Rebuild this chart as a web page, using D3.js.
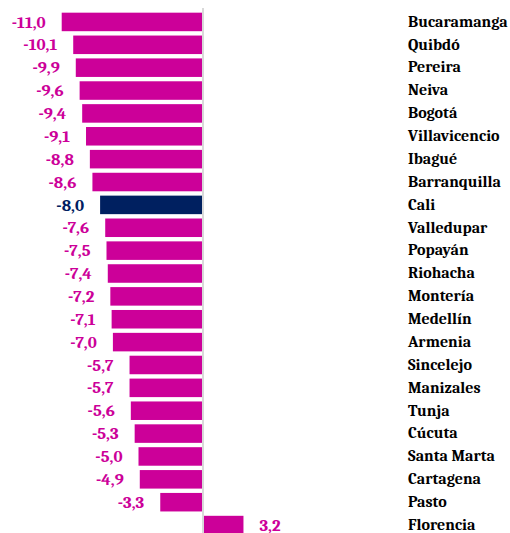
<!DOCTYPE html>
<html>
<head>
<meta charset="utf-8">
<script src="https://cdn.jsdelivr.net/npm/d3@7"></script>
<style>
  html, body { margin: 0; padding: 0; background: #fff; }
  svg { display: block; }
  text { font-family: Cambria, "Liberation Serif", serif; font-weight: bold; }
</style>
</head>
<body>
<svg id="chart" width="510" height="533"></svg>
<script>
// cities, top to bottom
const cities = ['Bucaramanga', 'Quibdó', 'Pereira', 'Neiva', 'Bogotá', 'Villavicencio',
  'Ibagué', 'Barranquilla', 'Cali', 'Valledupar', 'Popayán', 'Riohacha', 'Montería',
  'Medellín', 'Armenia', 'Sincelejo', 'Manizales', 'Tunja', 'Cúcuta', 'Santa Marta',
  'Cartagena', 'Pasto', 'Florencia'];
const values = [-11.0, -10.1, -9.9, -9.6, -9.4, -9.1, -8.8, -8.6, -8.0, -7.6, -7.5, -7.4,
  -7.2, -7.1, -7.0, -5.7, -5.7, -5.6, -5.3, -5.0, -4.9, -3.3, 3.2];
const highlight = 'Cali';

const pink = '#cc0099';
const navy = '#002060';

const data = cities.map((c, i) => ({city: c, value: values[i]}));
const svg = d3.select('#chart');

const x = d3.scaleLinear().domain([-11, 0]).range([61.7, 202.5]);
const y = d3.scaleBand().domain(cities).range([10.5, 536.5])
  .paddingInner(0.19).paddingOuter(0.095);

const fmt = (v) => d3.format('.1f')(v).replace('−', '-').replace('.', ',');

svg.append('g')
  .selectAll('rect')
  .data(data)
  .enter().append('rect')
    .attr('x', (d) => x(Math.min(0, d.value)))
    .attr('y', (d) => y(d.city))
    .attr('width', (d) => Math.abs(x(d.value) - x(0)))
    .attr('height', y.bandwidth())
    .attr('fill', (d) => d.city === highlight ? navy : pink);

// zero line
svg.append('line')
  .attr('x1', x(0) + 0.5).attr('x2', x(0) + 0.5)
  .attr('y1', 8).attr('y2', 533)
  .attr('stroke', '#d9d9d9')
  .attr('stroke-width', 2);

// value labels
svg.append('g')
  .selectAll('text')
  .data(data)
  .enter().append('text')
    .attr('x', (d) => d.value < 0 ? x(d.value) - 16 : x(d.value) + 16)
    .attr('y', (d) => y(d.city) + y.bandwidth() / 2)
    .attr('dy', '0.33em')
    .attr('text-anchor', (d) => d.value < 0 ? 'end' : 'start')
    .style('font-size', '17px')
    .attr('fill', (d) => d.city === highlight ? navy : pink)
    .text((d) => fmt(d.value));

// city labels
svg.append('g')
  .selectAll('text')
  .data(data)
  .enter().append('text')
    .attr('x', 408)
    .attr('y', (d) => y(d.city) + y.bandwidth() / 2)
    .attr('dy', '0.3em')
    .style('font-size', '16px')
    .attr('fill', '#000')
    .text((d) => d.city);
</script>
</body>
</html>
